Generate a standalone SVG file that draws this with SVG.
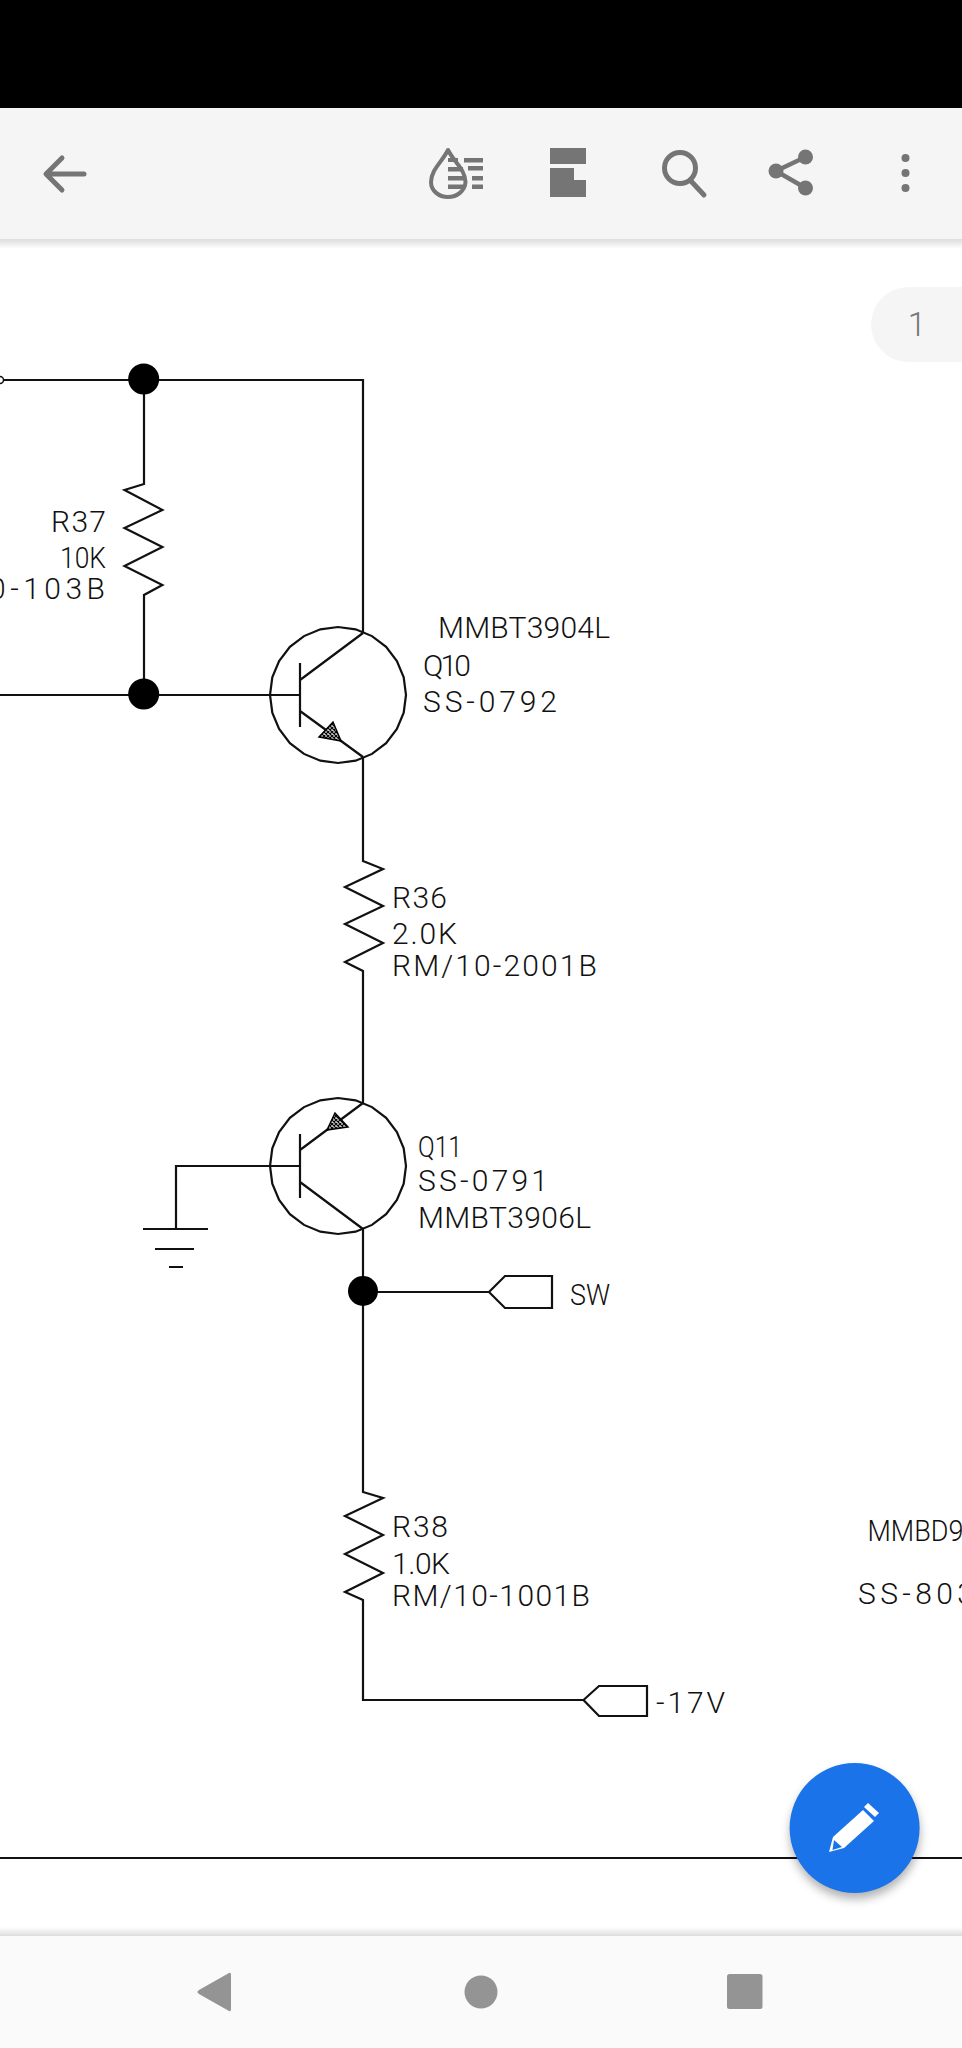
<svg xmlns="http://www.w3.org/2000/svg" width="962" height="2048" viewBox="0 0 962 2048">
<style>
.w{fill:none;stroke:#111;stroke-width:2.200;stroke-linejoin:miter}
.t{font-family:"Roboto","Liberation Sans",sans-serif;font-weight:300;font-size:30px;fill:#111}
.g{fill:#757575}
.n{fill:#949494}
.j{fill:#000}
</style>
<defs>
<filter id="b4" x="-30%" y="-30%" width="160%" height="160%"><feGaussianBlur stdDeviation="5"/></filter>
<linearGradient id="sd" x1="0" y1="0" x2="0" y2="1"><stop offset="0" stop-color="#dcdcdc"/><stop offset="1" stop-color="#fff"/></linearGradient>
<linearGradient id="su" x1="0" y1="0" x2="0" y2="1"><stop offset="0" stop-color="#fff"/><stop offset="1" stop-color="#dcdcdc"/></linearGradient>
<pattern id="h" width="4" height="4" patternUnits="userSpaceOnUse"><rect width="4" height="4" fill="#ccc"/><path d="M0 0L4 4M4 0L0 4" stroke="#000" stroke-width="1.100"/></pattern>
<polygon id="ring" class="w" points="68,0 65.700,17.600 58.900,34 48.100,48.100 34,58.900 17.600,65.700 0,68 -17.600,65.700 -34,58.900 -48.100,48.100 -58.900,34 -65.700,17.600 -68,0 -65.700,-17.600 -58.900,-34 -48.100,-48.100 -34,-58.900 -17.600,-65.700 0,-68 17.600,-65.700 34,-58.900 48.100,-48.100 58.900,-34 65.700,-17.600"/>
</defs>
<rect width="962" height="2048" fill="#fff"/>

<g id="wires">
<path class="w" d="M0 380H363V633"/>
<path class="w" d="M144 380V484L124.500 490L162.400 510L124.500 528L162.400 547L124.500 566L162.400 585L144 595V694"/>
<path class="w" d="M0 695H300"/>
<path class="w" d="M363 757V861L383 869L345 887L383 906L345 924L383 943L345 962L363 971V1103"/>
<path class="w" d="M300 1166H176V1229"/>
<path class="w" d="M363 1229V1492L383 1498L345 1516L383 1535L345 1554L383 1573L345 1592L363 1600V1700H583.500"/>
<path class="w" d="M363 1292H489"/>
<path class="w" d="M0 1858H962"/>
</g>

<g id="j-start"><circle cx="0" cy="380" r="3.500" fill="#fff" stroke="#111" stroke-width="1.500"/></g>
<g id="j-top"><circle class="j" cx="143.700" cy="379" r="15.500"/></g>
<g id="j-base"><circle class="j" cx="143.700" cy="694" r="15.500"/></g>
<g id="j-sw"><circle class="j" cx="363" cy="1291" r="15"/></g>

<g id="r37">
<text class="t" x="51" y="532" textLength="55" lengthAdjust="spacing">R37</text>
<text class="t" x="60" y="568" textLength="46" lengthAdjust="spacingAndGlyphs">10K</text>
<text class="t" x="-11" y="599" textLength="116" lengthAdjust="spacing">0-103B</text>
</g>

<g id="q10">
<use href="#ring" x="338" y="695"/>
<path class="w" d="M300 663V727M300 680L363 633M300 711L363 757"/>
<path d="M341 741L319 737L333 722Z" fill="url(#h)" stroke="#000" stroke-width="1.500"/>
<text class="t" x="438" y="638" textLength="172" lengthAdjust="spacing">MMBT3904L</text>
<text class="t" x="423" y="676" textLength="48" lengthAdjust="spacing">Q10</text>
<text class="t" x="423" y="712" textLength="134" lengthAdjust="spacing">SS-0792</text>
</g>

<g id="r36">
<text class="t" x="392" y="908" textLength="55" lengthAdjust="spacing">R36</text>
<text class="t" x="392" y="944" textLength="65" lengthAdjust="spacing">2.0K</text>
<text class="t" x="392" y="976" textLength="205" lengthAdjust="spacing">RM/10-2001B</text>
</g>

<g id="q11">
<use href="#ring" x="338" y="1166"/>
<path class="w" d="M300 1134V1198M363 1103L300 1150M300 1182L363 1229"/>
<path d="M327 1130L335 1113L348 1127Z" fill="url(#h)" stroke="#000" stroke-width="1.500"/>
<text class="t" x="418" y="1157" textLength="44" lengthAdjust="spacingAndGlyphs">Q11</text>
<text class="t" x="418" y="1191" textLength="130" lengthAdjust="spacing">SS-0791</text>
<text class="t" x="418" y="1228" textLength="173" lengthAdjust="spacing">MMBT3906L</text>
</g>

<g id="ground">
<path class="w" d="M143 1229H208M155 1249H194M169 1267H183"/>
</g>

<g id="tag-sw">
<path class="w" d="M489 1292L505 1276H552V1308H505Z"/>
<text class="t" x="570" y="1305" textLength="40" lengthAdjust="spacingAndGlyphs">SW</text>
</g>

<g id="r38">
<text class="t" x="392" y="1537" textLength="56" lengthAdjust="spacing">R38</text>
<text class="t" x="392" y="1574" textLength="58" lengthAdjust="spacing">1.0K</text>
<text class="t" x="392" y="1606" textLength="198" lengthAdjust="spacing">RM/10-1001B</text>
</g>

<g id="tag-17v">
<path class="w" d="M583.500 1700L599 1686H647V1716H599Z"/>
<text class="t" x="656" y="1713" textLength="69" lengthAdjust="spacing">-17V</text>
</g>

<g id="d-labels">
<text class="t" x="867.500" y="1541" textLength="96" lengthAdjust="spacingAndGlyphs">MMBD9</text>
<text class="t" x="858" y="1604" textLength="116" lengthAdjust="spacing">SS-803</text>
</g>

<g id="status-bar"><rect width="962" height="108" fill="#000"/></g>

<g id="toolbar">
<rect x="0" y="239" width="962" height="10" fill="url(#sd)"/>
<rect y="108" width="962" height="131" fill="#f5f5f5"/>
<path d="M84 174H47M62 158L46 174L62 190" fill="none" stroke="#757575" stroke-width="5" stroke-linecap="round" stroke-linejoin="round"/>
<path d="M448 150C442 162 431 170 431 182C431 191 439 197 448 197C457 197 465 191 465.500 182C465.500 170 454 162 448 150Z" fill="none" stroke="#757575" stroke-width="4" stroke-linejoin="round"/>
<path class="g" d="M448 158H458V162H448ZM464 158H483V162.500H464ZM448 167H463V171.500H448ZM468 166H483V170.500H468ZM448 176H465V180.500H448ZM472 176H483V180.500H472ZM448 184.500H465V189H448ZM472 184.500H483V189H472Z"/>
<path class="g" d="M550 148H586V164H550ZM550 168H574V180H586V197H550Z"/>
<circle cx="680" cy="168" r="15.500" fill="none" stroke="#757575" stroke-width="5"/>
<path d="M690 180L704 195" stroke="#757575" stroke-width="5" stroke-linecap="round"/>
<path d="M776 171L805.500 157M776 171L805.500 188" stroke="#757575" stroke-width="4.500"/>
<circle class="g" cx="776" cy="171" r="7.500"/><circle class="g" cx="805.500" cy="157" r="7.500"/><circle class="g" cx="805.500" cy="188" r="7.500"/>
<circle class="g" cx="905.500" cy="158" r="4"/><circle class="g" cx="905.500" cy="173" r="4"/><circle class="g" cx="905.500" cy="188" r="4"/>
</g>

<g id="page-pill">
<rect x="871" y="287" width="140" height="75" rx="37.500" fill="#f5f5f5"/>
<text x="917" y="336" font-family="Roboto,'Liberation Sans',sans-serif" font-size="33" font-weight="300" fill="#757575" text-anchor="middle">1</text>
</g>

<g id="fab">
<circle cx="855" cy="1834" r="65" fill="#000" fill-opacity=".3" filter="url(#b4)"/>
<circle cx="854.600" cy="1828" r="65" fill="#1a73e8"/>
<path fill="#fff" d="M829 1852L833 1837L863 1810L874 1821L844 1848Z"/>
<path fill="#1a73e8" d="M834 1840L842 1847L832.500 1850Z"/>
<path fill="#fff" d="M864 1807L868 1803L879 1813L875 1817Z"/>
</g>

<g id="nav-bar">
<rect x="0" y="1927" width="962" height="9" fill="url(#su)"/>
<rect y="1936" width="962" height="112" fill="#fafafa"/>
<path class="n" d="M229 1973Q231 1972 231 1975V2009Q231 2012 229 2011L199 1994Q196 1992 199 1990Z"/>
<circle class="n" cx="481" cy="1992" r="16.500"/>
<rect class="n" x="727" y="1974" width="35.500" height="35" rx="2.500"/>
</g>
</svg>
